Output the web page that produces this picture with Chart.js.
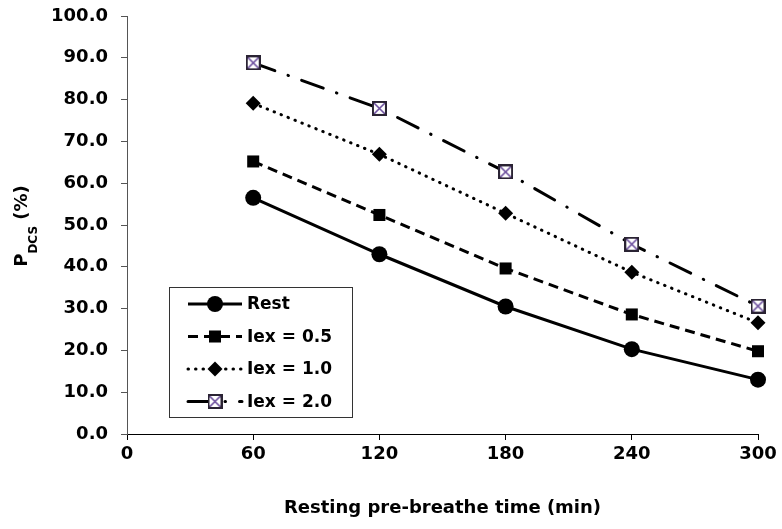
<!DOCTYPE html>
<html>
<head>
<meta charset="utf-8">
<script src="https://cdn.jsdelivr.net/npm/chart.js@4.4.1/dist/chart.umd.min.js"></script>
<style>
  html, body { margin: 0; padding: 0; background: #fff; }
  #wrap { width: 782px; height: 529px; }
</style>
</head>
<body>
<div id="wrap"><canvas id="pdcs_canvas" width="782" height="529"></canvas></div>
<script>
// resting pre-breathe time (min)
const times = [60, 120, 180, 240, 300];
// P(DCS) in percent for each exercise level
const rest = [56.5, 43.0, 30.5, 20.3, 13.0];
const iex05 = [65.2, 52.4, 39.6, 28.6, 19.8];
const iex10 = [79.1, 66.9, 52.8, 38.7, 26.6];
const iex20 = [88.8, 77.9, 62.7, 45.4, 30.6];
const seriesNames = ['Rest', 'Iex = 0.5', 'Iex = 1.0', 'Iex = 2.0'];
const yTicks = [0, 10, 20, 30, 40, 50, 60, 70, 80, 90, 100];
const xTicks = [0, 60, 120, 180, 240, 300];

const FONT = "'DejaVu Sans', Arial, sans-serif";

// boxed cross marker used by the Iex = 2.0 series
function crossBox(size) {
    const c = document.createElement('canvas');
    c.width = size; c.height = size;
    const g = c.getContext('2d');
    g.fillStyle = '#ffffff';
    g.fillRect(0, 0, size, size);
    g.strokeStyle = '#6a4c9c';
    g.lineWidth = 1.6;
    g.beginPath();
    g.moveTo(2, 2); g.lineTo(size - 2, size - 2);
    g.moveTo(size - 2, 2); g.lineTo(2, size - 2);
    g.stroke();
    g.strokeStyle = '#2a2333';
    g.lineWidth = 2;
    g.strokeRect(1, 1, size - 2, size - 2);
    return c;
}

function pts(vals) {
    return times.map((t, i) => ({ x: t, y: vals[i] }));
}

const base = { borderColor: '#000', backgroundColor: '#000', borderWidth: 3, pointBorderWidth: 0, fill: false, tension: 0, clip: false };

const datasets = [
    Object.assign({}, base, { label: seriesNames[0], data: pts(rest), pointStyle: 'circle', pointRadius: 8 }),
    Object.assign({}, base, { label: seriesNames[1], data: pts(iex05), borderDash: [10, 6], pointStyle: 'rect', pointRadius: 8.5 }),
    Object.assign({}, base, { label: seriesNames[2], data: pts(iex10), borderDash: [0.5, 7], borderCapStyle: 'round', pointStyle: 'rectRot', pointRadius: 7.5 }),
    Object.assign({}, base, { label: seriesNames[3], data: pts(iex20), borderDash: [23, 14, 0.5, 14], borderCapStyle: 'round', pointStyle: crossBox(15), pointRadius: 8 })
];

// legend box drawn inside the plot area
const boxLegend = {
    id: 'boxLegend',
    afterDraw(chart) {
        const ctx = chart.ctx;
        const left = 169, top = 287, w = 183, h = 130;
        ctx.save();
        ctx.strokeStyle = '#333';
        ctx.lineWidth = 1;
        ctx.fillStyle = '#fff';
        ctx.fillRect(left, top, w, h);
        ctx.strokeRect(left + 0.5, top + 0.5, w, h);
        chart.data.datasets.forEach((ds, i) => {
            const y = top + 17 + i * 32.5;
            ctx.save();
            ctx.strokeStyle = '#000';
            ctx.lineWidth = ds.borderWidth;
            ctx.lineCap = ds.borderCapStyle || 'butt';
            ctx.setLineDash(ds.borderDash || []);
            ctx.beginPath();
            ctx.moveTo(188, y);
            ctx.lineTo(242, y);
            ctx.stroke();
            ctx.restore();
            ctx.fillStyle = '#000';
            ctx.strokeStyle = '#000';
            Chart.helpers.drawPoint(ctx, { pointStyle: ds.pointStyle, radius: ds.pointRadius, rotation: 0, borderWidth: 0 }, 215, y);
            ctx.fillStyle = '#000';
            ctx.font = 'bold 17px ' + FONT;
            ctx.textBaseline = 'middle';
            ctx.textAlign = 'left';
            ctx.fillText(ds.label, 247, y + 1);
        });
        ctx.restore();
    }
};

// rotated y title with subscript DCS
const yTitle = {
    id: 'yTitle',
    afterDraw(chart) {
        const ctx = chart.ctx;
        ctx.save();
        ctx.fillStyle = '#000';
        ctx.translate(27, 226);
        ctx.rotate(-Math.PI / 2);
        ctx.textBaseline = 'alphabetic';
        ctx.textAlign = 'left';
        const big = 'bold 18px ' + FONT, small = 'bold 12px ' + FONT;
        ctx.font = big;
        const wP = ctx.measureText('P').width;
        const wRest = ctx.measureText(' (%)').width;
        ctx.font = small;
        const wSub = ctx.measureText('DCS').width;
        let x = -(wP + wSub + wRest) / 2;
        ctx.font = big;
        ctx.fillText('P', x, 0);
        x += wP;
        ctx.font = small;
        ctx.fillText('DCS', x, 10);
        x += wSub;
        ctx.font = big;
        ctx.fillText(' (%)', x, 0);
        ctx.restore();
    }
};

new Chart(document.getElementById('pdcs_canvas').getContext('2d'), {
    type: 'line',
    data: { datasets: datasets },
    options: {
        responsive: false,
        animation: false,
        layout: { padding: { top: 16, right: 24, left: 0, bottom: 0 }, autoPadding: false },
        plugins: {
            legend: { display: false },
            tooltip: { enabled: false }
        },
        scales: {
            x: {
                type: 'linear',
                min: 0,
                max: 300,
                afterBuildTicks: (s) => { s.ticks = xTicks.map(v => ({ value: v })); },
                afterFit: (s) => { s.height = 95; s.paddingLeft = 0; s.paddingRight = 0; },
                ticks: { color: '#000', font: { family: FONT, size: 18, weight: 'bold' }, padding: 4 },
                grid: { drawOnChartArea: false, drawTicks: true, tickLength: 6, color: '#000' },
                border: { color: '#000', width: 1 },
                title: {
                    display: true,
                    text: 'Resting pre-breathe time (min)',
                    color: '#000',
                    font: { family: FONT, size: 18, weight: 'bold' },
                    padding: { top: 4, bottom: 10 }
                }
            },
            y: {
                min: 0,
                max: 100,
                afterBuildTicks: (s) => { s.ticks = yTicks.map(v => ({ value: v })); },
                afterFit: (s) => { s.width = 127; s.paddingTop = 0; s.paddingBottom = 0; },
                ticks: {
                    color: '#000',
                    font: { family: FONT, size: 18, weight: 'bold' },
                    padding: 13,
                    callback: (v) => Number(v).toFixed(1)
                },
                grid: { drawOnChartArea: false, drawTicks: true, tickLength: 6, color: '#555' },
                border: { color: '#555', width: 1 }
            }
        }
    },
    plugins: [boxLegend, yTitle]
});
</script>
</body>
</html>
